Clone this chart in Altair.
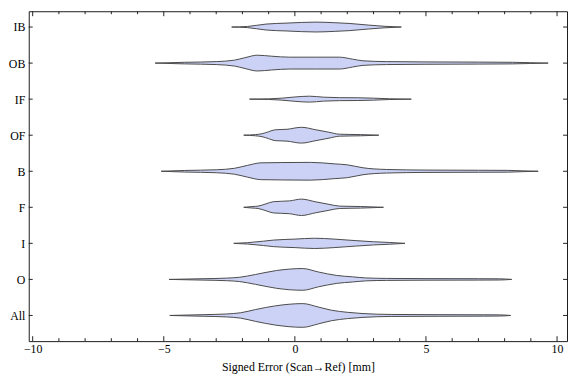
import json
import altair as alt
import pandas as pd

# Categories, bottom to top
categories = ["All", "O", "I", "F", "B", "OF", "IF", "OB", "IB"]

# Violin outlines: signed error values (mm) and estimated density half-widths (relative units)
x_all = [-4.77, -3.5, -2.6, -2.07, -1.5, -0.75, 0.3, 0.9, 1.4, 2.0, 2.56, 3.7, 5.5, 7.2, 7.8, 8.23]
d_all = [0, 0.8, 1.5, 2.7, 6.0, 9.7, 12.0, 8.5, 5.3, 3.2, 2.0, 1.0, 0.8, 0.7, 0.6, 0]

x_o = [-4.8, -3.5, -2.6, -2.1, -1.5, -0.7, 0.3, 0.9, 1.6, 2.2, 2.7, 3.5, 5.0, 7.0, 7.8, 8.27]
d_o = [0, 0.7, 1.3, 2.2, 5.0, 9.0, 11.0, 7.5, 4.0, 2.6, 1.5, 1.0, 0.8, 0.7, 0.6, 0]

x_i = [-2.33, -1.8, -1.2, -0.82, 0.0, 0.75, 1.5, 2.3, 3.0, 3.6, 4.2]
d_i = [0, 0.7, 2.2, 3.3, 4.3, 5.2, 4.3, 2.8, 1.6, 0.9, 0]

x_f = [-1.95, -1.6, -1.4, -1.1, -0.82, -0.2, 0.25, 0.8, 1.3, 1.7, 2.5, 3.38]
d_f = [0, 0.8, 1.2, 3.5, 5.7, 6.5, 8.3, 5.5, 3.0, 1.2, 0.8, 0]

x_b = [-5.1, -4.2, -3.0, -2.3, -1.8, -1.3, -0.5, 0.6, 1.5, 2.0, 2.6, 3.5, 5.0, 7.0, 8.1, 8.7, 9.28]
d_b = [0, 0.8, 1.5, 3.0, 6.0, 8.5, 8.8, 9.0, 7.5, 6.5, 3.5, 1.8, 1.2, 1.0, 0.9, 0.4, 0]

x_of = [-1.95, -1.5, -1.25, -1.0, -0.75, -0.3, 0.25, 0.8, 1.3, 1.7, 2.5, 3.2]
d_of = [0, 0.6, 1.5, 3.5, 5.5, 6.0, 8.0, 5.5, 3.0, 1.0, 0.6, 0]

x_if = [-1.73, -1.0, -0.5, 0.0, 0.56, 1.1, 1.7, 2.4, 3.0, 3.6, 4.44]
d_if = [0, 0.3, 1.0, 2.2, 3.0, 2.0, 1.5, 1.4, 1.0, 0.4, 0]

x_ob = [-5.33, -4.2, -3.0, -2.3, -1.9, -1.43, -0.9, -0.2, 0.8, 1.7, 2.2, 2.6, 3.5, 5.0, 7.0, 8.3, 9.0, 9.66]
d_ob = [0, 0.8, 1.5, 3.0, 5.5, 8.0, 7.0, 6.0, 6.0, 6.0, 4.0, 2.3, 1.5, 1.2, 1.0, 0.8, 0.4, 0]

x_ib = [-2.41, -1.8, -1.1, -0.3, 0.8, 1.5, 2.1, 2.8, 3.4, 4.06]
d_ib = [0, 0.6, 3.0, 4.0, 5.0, 4.4, 3.6, 2.0, 0.8, 0]

x_ticks_major = [-10, -5, 0, 5, 10]
x_ticks_minor = [-9, -8, -7, -6, -4, -3, -2, -1, 1, 2, 3, 4, 6, 7, 8, 9]

profiles = {
    "All": (x_all, d_all), "O": (x_o, d_o), "I": (x_i, d_i), "F": (x_f, d_f),
    "B": (x_b, d_b), "OF": (x_of, d_of), "IF": (x_if, d_if), "OB": (x_ob, d_ob),
    "IB": (x_ib, d_ib),
}

K = 1 / 36.5  # density units -> category-axis units
rows = []
for i, c in enumerate(categories):
    pos = i + 1
    xs, ds = profiles[c]
    for xv, dv in zip(xs, ds):
        rows.append({"cat": c, "x": xv, "lo": pos - dv * K, "hi": pos + dv * K})
df = pd.DataFrame(rows)

W, H = 545, 334
FONT = "Liberation Serif"

xscale = alt.Scale(domain=[-10.15, 10.38], nice=False, zero=False)
yscale = alt.Scale(domain=[0.288, 9.438], nice=False, zero=False)

xaxis = alt.Axis(values=x_ticks_major, ticks=False, domain=False, grid=False,
                 labelFont=FONT, labelFontSize=12, labelColor="black", labelPadding=3,
                 labelFlush=False, title="Signed Error (Scan\u2192Ref) [mm]",
                 titleFont=FONT, titleFontSize=12, titleFontWeight="normal",
                 titleColor="black", titlePadding=7)
yaxis = alt.Axis(values=list(range(1, len(categories) + 1)), ticks=False, domain=False,
                 grid=False, labelFont=FONT, labelFontSize=12, labelColor="black",
                 labelPadding=4, title=None,
                 labelExpr=json.dumps(categories) + "[datum.value - 1]")

X = alt.X("x:Q", scale=xscale, axis=xaxis)
Y = alt.Y("lo:Q", scale=yscale, axis=yaxis)

violins = alt.Chart(df).mark_area(
    interpolate="monotone", fill="#ccd2f5", stroke="#4a4a4a", strokeWidth=1
).encode(x=X, y=Y, y2="hi:Q", detail="cat:N")

maj = pd.DataFrame({"x": x_ticks_major})
mnr = pd.DataFrame({"x": x_ticks_minor})
cat_df = pd.DataFrame({"lo": list(range(1, len(categories) + 1))})

tick_color = "#222222"
top_major = alt.Chart(maj).mark_rule(color=tick_color).encode(x=X, y=alt.value(0), y2=alt.value(5))
top_minor = alt.Chart(mnr).mark_rule(color=tick_color).encode(x=X, y=alt.value(0), y2=alt.value(3))
bot_major = alt.Chart(maj).mark_rule(color=tick_color).encode(x=X, y=alt.value(H), y2=alt.value(H - 5))
bot_minor = alt.Chart(mnr).mark_rule(color=tick_color).encode(x=X, y=alt.value(H), y2=alt.value(H - 3))
left_t = alt.Chart(cat_df).mark_rule(color=tick_color).encode(y=Y, x=alt.value(0), x2=alt.value(4))
right_t = alt.Chart(cat_df).mark_rule(color=tick_color).encode(y=Y, x=alt.value(W), x2=alt.value(W - 4))

chart = alt.layer(violins, top_major, top_minor, bot_major, bot_minor, left_t, right_t).properties(
    width=W, height=H, padding=0
).configure_view(stroke="#1a1a1a", strokeWidth=1)

chart.save("out.html", embed_options={"renderer": "svg", "actions": False})
